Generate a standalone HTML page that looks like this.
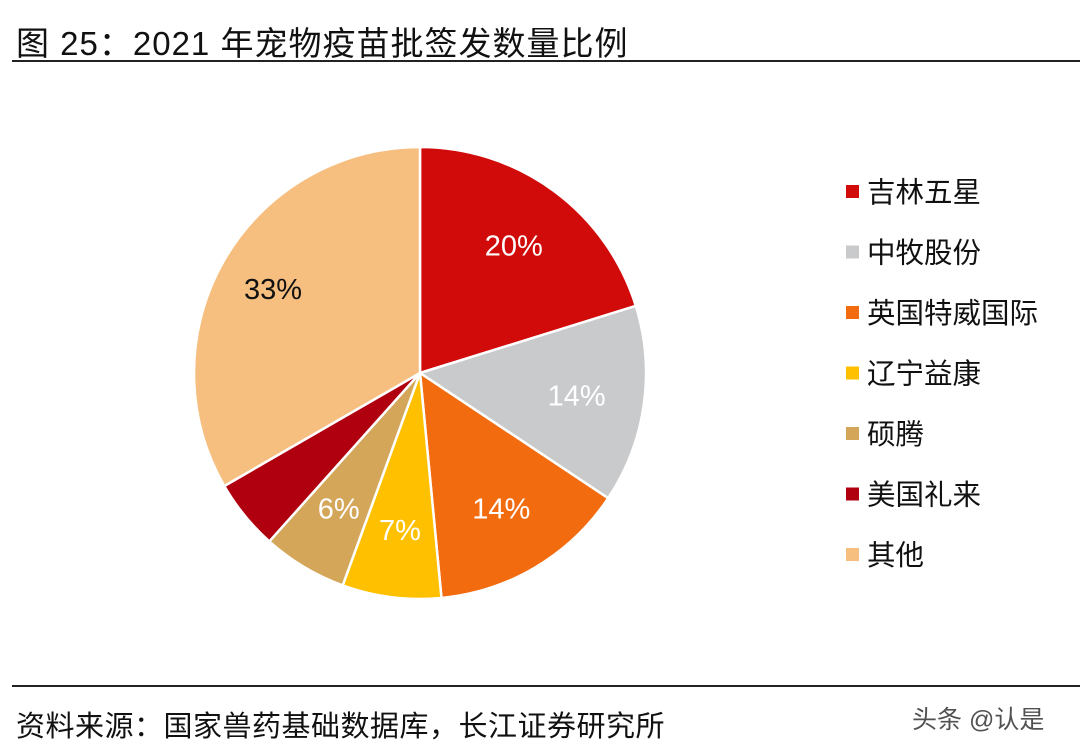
<!DOCTYPE html>
<html><head><meta charset="utf-8"><style>
html,body{margin:0;padding:0;background:#fff;}
body{width:1080px;height:756px;position:relative;overflow:hidden;font-family:"Liberation Sans","Noto Sans CJK SC",sans-serif;}
.title{position:absolute;left:16px;top:17px;font-size:33px;color:#111;letter-spacing:1px;white-space:nowrap;}
.rule{position:absolute;left:12px;right:0;height:2px;background:#222;}
.src{position:absolute;left:16px;top:703px;font-size:29px;color:#111;letter-spacing:0.5px;white-space:nowrap;}
.wm{position:absolute;left:912px;top:700px;font-size:25px;color:#333;opacity:.85;}
</style></head><body>
<div class="title">图 25：2021 年宠物疫苗批签发数量比例</div>
<div class="rule" style="top:60px"></div>
<div class="rule" style="top:685px;height:1.5px"></div>
<div class="src">资料来源：国家兽药基础数据库，长江证券研究所</div>
<div class="wm">头条 @认是</div>
<svg id="chart" width="1080" height="756" style="position:absolute;left:0;top:0"></svg>
<script>
const categories=["吉林五星","中牧股份","英国特威国际","辽宁益康","硕腾","美国礼来","其他"];
const values=[20,14,14,7,6,5,33];
const labels=["20%","14%","14%","7%","6%","","33%"];
const colors=["#D10A0A","#C9CACC","#F26B0F","#FFC000","#D4A65A","#B00010","#F6BF80"];
const labelColors=["#fff","#fff","#fff","#fff","#fff","#fff","#111"];
const NS="http://www.w3.org/2000/svg";
const svg=document.getElementById("chart");
const cx=420,cy=373,r=226;
const total=values.reduce((a,b)=>a+b,0);
function pt(a,rad){return [cx+rad*Math.sin(a),cy-rad*Math.cos(a)];}
let acc=0;
values.forEach((v,i)=>{
  const a0=acc/total*2*Math.PI; acc+=v; const a1=acc/total*2*Math.PI;
  const p0=pt(a0,r),p1=pt(a1,r);
  const path=document.createElementNS(NS,"path");
  path.setAttribute("d",`M${cx},${cy}L${p0[0]},${p0[1]}A${r},${r} 0 ${a1-a0>Math.PI?1:0} 1 ${p1[0]},${p1[1]}Z`);
  path.setAttribute("fill",colors[i]);path.setAttribute("stroke","#fff");path.setAttribute("stroke-width","2.5");
  
  
  svg.appendChild(path);
  if(labels[i]){
    const m=(a0+a1)/2; const lp=pt(m,r*0.7);
    const t=document.createElementNS(NS,"text");
    t.setAttribute("x",lp[0]-(i===6?10:0));t.setAttribute("y",lp[1]+(i===6?5:10));t.setAttribute("text-anchor","middle");
    t.setAttribute("font-size","29");t.setAttribute("fill",labelColors[i]);
    t.setAttribute("font-family","Liberation Sans, sans-serif");
    t.textContent=labels[i];
    
    
    svg.appendChild(t);
  }
});
categories.forEach((c,i)=>{
  const y=192+i*60.5;
  const g=document.createElementNS(NS,"g");
  
  
  const rc=document.createElementNS(NS,"rect");
  rc.setAttribute("x",846);rc.setAttribute("y",y-7);rc.setAttribute("width",13);rc.setAttribute("height",13);rc.setAttribute("fill",colors[i]);
  g.appendChild(rc);
  const t=document.createElementNS(NS,"text");
  t.setAttribute("x",867);t.setAttribute("y",y+10);t.setAttribute("font-size","28.5");t.setAttribute("fill","#111");
  t.setAttribute("font-family","Liberation Sans, Noto Sans CJK SC, sans-serif");
  t.textContent=c;g.appendChild(t);
  svg.appendChild(g);
});
</script>
</body></html>
